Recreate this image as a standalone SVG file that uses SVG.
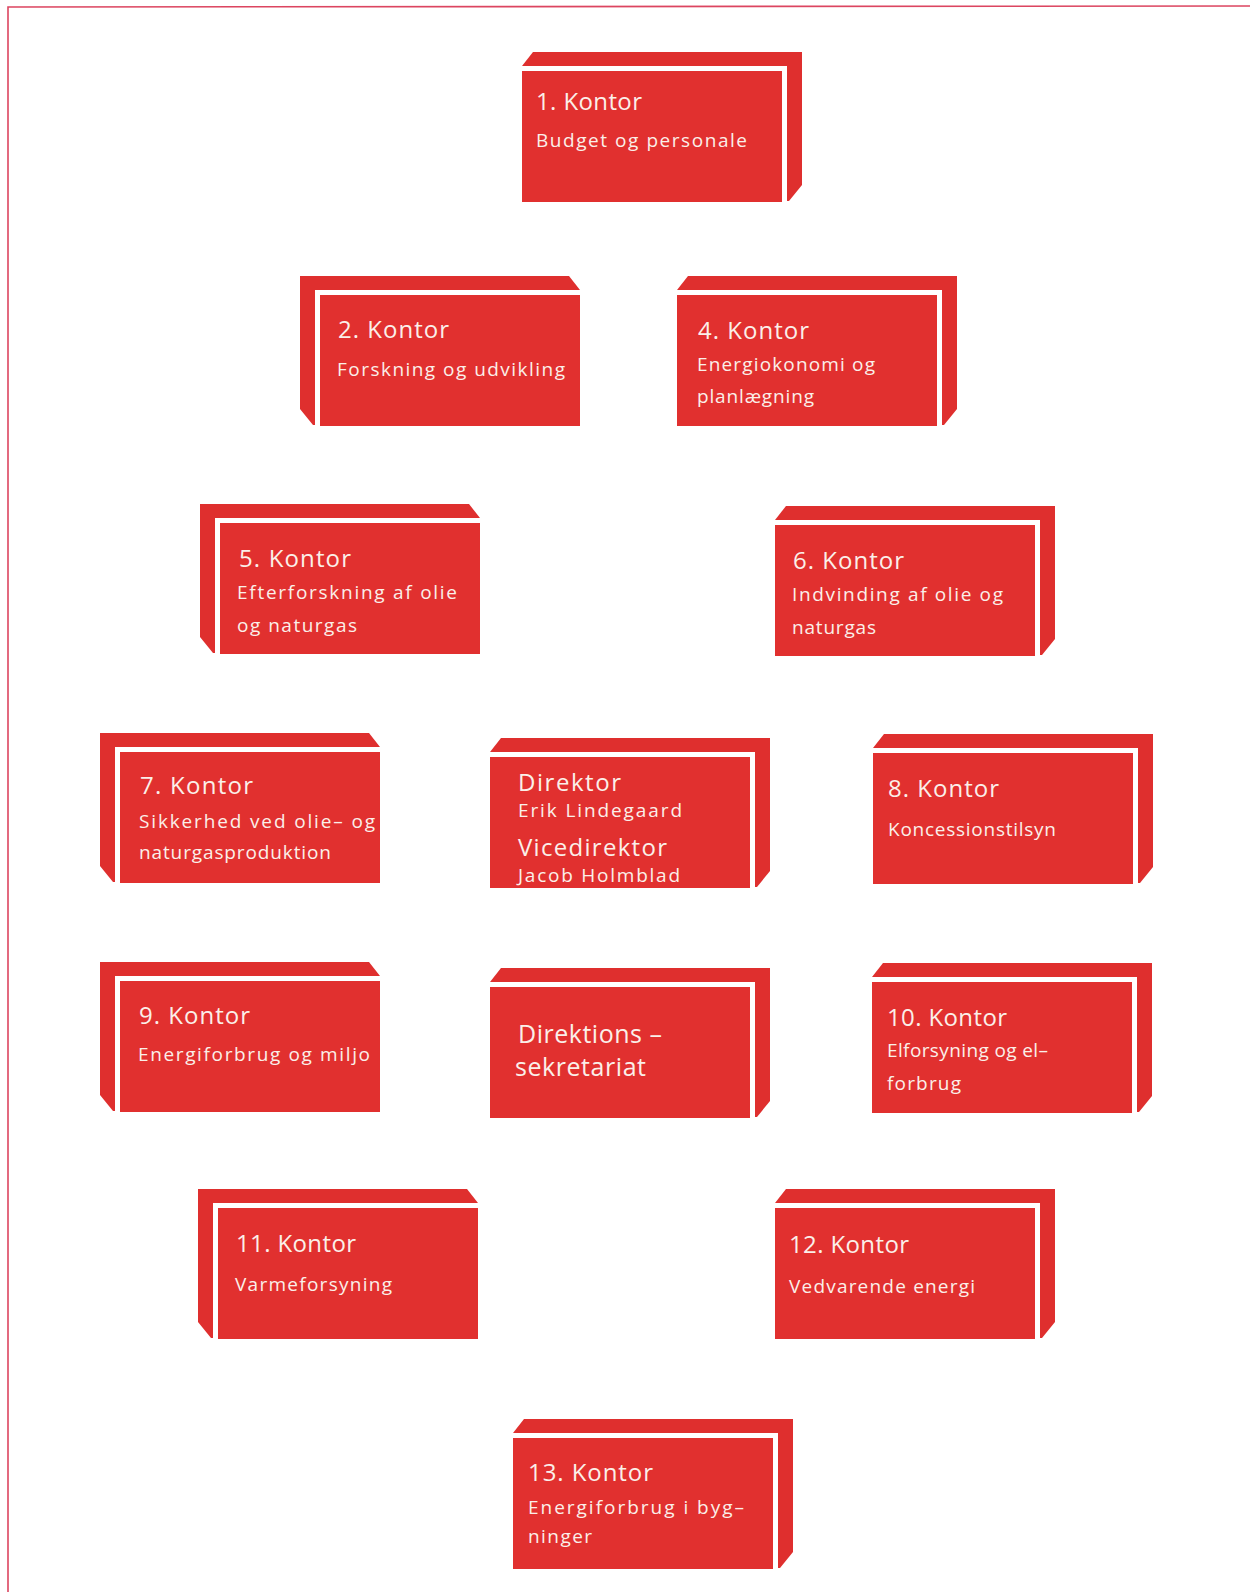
<svg xmlns="http://www.w3.org/2000/svg" xmlns:xlink="http://www.w3.org/1999/xlink" width="1250" height="1592" viewBox="0 0 1250 1592">
<style>
.back{fill:#df2f2e}
.gap{fill:#ffffff}
.face{fill:#e1302f}
text{font-family:"Open Sans","Noto Sans","Liberation Sans",sans-serif;fill:#fbefe9}
.t{font-size:24px}
.s{font-size:19px}
.d{font-size:25px}
.frame{fill:none;stroke:#dc4560;stroke-width:1.6}
</style>
<defs>
<g id="boxR">
<polygon class="back" points="0,-5 11,-19 280,-19 280,114 267,130 0,130"/>
<rect class="gap" x="0" y="-5" width="265" height="136"/>
<rect class="face" x="0" y="0" width="260" height="131"/>
</g>
<g id="boxL">
<polygon class="back" points="260,-5 249,-19 -20,-19 -20,114 -7,130 260,130"/>
<rect class="gap" x="-5" y="-5" width="265" height="136"/>
<rect class="face" x="0" y="0" width="260" height="131"/>
</g>
</defs>
<rect width="1250" height="1592" fill="#ffffff"/>
<polyline class="frame" points="8,1592 8,7 1250,6"/>
<g id="connectors"></g>

<g id="k1">
<use xlink:href="#boxR" x="522" y="71"/>
<text class="t" x="536" y="110" textLength="106" lengthAdjust="spacing">1. Kontor</text>
<text class="s" x="536" y="147" textLength="211" lengthAdjust="spacing">Budget og personale</text>
</g>

<g id="k2">
<use xlink:href="#boxL" x="320" y="295"/>
<text class="t" x="338" y="338" textLength="111" lengthAdjust="spacing">2. Kontor</text>
<text class="s" x="337" y="376" textLength="228" lengthAdjust="spacing">Forskning og udvikling</text>
</g>

<g id="k4">
<use xlink:href="#boxR" x="677" y="295"/>
<text class="t" x="698" y="339" textLength="111" lengthAdjust="spacing">4. Kontor</text>
<text class="s" x="697" y="371" textLength="178" lengthAdjust="spacing">Energiokonomi og</text>
<text class="s" x="697" y="403" textLength="117" lengthAdjust="spacing">planlægning</text>
</g>

<g id="k5">
<use xlink:href="#boxL" x="220" y="523"/>
<text class="t" x="239" y="567" textLength="112" lengthAdjust="spacing">5. Kontor</text>
<text class="s" x="237" y="599" textLength="220" lengthAdjust="spacing">Efterforskning af olie</text>
<text class="s" x="237" y="632" textLength="120" lengthAdjust="spacing">og naturgas</text>
</g>

<g id="k6">
<use xlink:href="#boxR" x="775" y="525"/>
<text class="t" x="793" y="569" textLength="111" lengthAdjust="spacing">6. Kontor</text>
<text class="s" x="792" y="601" textLength="211" lengthAdjust="spacing">Indvinding af olie og</text>
<text class="s" x="792" y="634" textLength="84" lengthAdjust="spacing">naturgas</text>
</g>

<g id="k7">
<use xlink:href="#boxL" x="120" y="752"/>
<text class="t" x="140" y="794" textLength="113" lengthAdjust="spacing">7. Kontor</text>
<text class="s" x="139" y="828" textLength="236" lengthAdjust="spacing">Sikkerhed ved olie– og</text>
<text class="s" x="139" y="859" textLength="192" lengthAdjust="spacing">naturgasproduktion</text>
</g>

<g id="direktor">
<use xlink:href="#boxR" x="490" y="757"/>
<text class="t" x="518" y="791" textLength="103" lengthAdjust="spacing">Direktor</text>
<text class="s" x="518" y="817" textLength="164" lengthAdjust="spacing">Erik  Lindegaard</text>
<text class="t" x="518" y="856" textLength="149" lengthAdjust="spacing">Vicedirektor</text>
<text class="s" x="518" y="882" textLength="162" lengthAdjust="spacing">Jacob  Holmblad</text>
</g>

<g id="k8">
<use xlink:href="#boxR" x="873" y="753"/>
<text class="t" x="888" y="797" textLength="111" lengthAdjust="spacing">8. Kontor</text>
<text class="s" x="888" y="836" textLength="168" lengthAdjust="spacing">Koncessionstilsyn</text>
</g>

<g id="k9">
<use xlink:href="#boxL" x="120" y="981"/>
<text class="t" x="139" y="1024" textLength="111" lengthAdjust="spacing">9. Kontor</text>
<text class="s" x="138" y="1061" textLength="232" lengthAdjust="spacing">Energiforbrug  og miljo</text>
</g>

<g id="direktionssekretariat">
<use xlink:href="#boxR" x="490" y="987"/>
<text class="d" x="518" y="1043" textLength="144" lengthAdjust="spacing">Direktions –</text>
<text class="d" x="515" y="1076" textLength="131" lengthAdjust="spacing">sekretariat</text>
</g>

<g id="k10">
<use xlink:href="#boxR" x="872" y="982"/>
<text class="t" x="887" y="1026" textLength="120" lengthAdjust="spacing">10. Kontor</text>
<text class="s" x="887" y="1057" textLength="161" lengthAdjust="spacing">Elforsyning  og  el–</text>
<text class="s" x="887" y="1090" textLength="74" lengthAdjust="spacing">forbrug</text>
</g>

<g id="k11">
<use xlink:href="#boxL" x="218" y="1208"/>
<text class="t" x="236" y="1252" textLength="120" lengthAdjust="spacing">11. Kontor</text>
<text class="s" x="235" y="1291" textLength="157" lengthAdjust="spacing">Varmeforsyning</text>
</g>

<g id="k12">
<use xlink:href="#boxR" x="775" y="1208"/>
<text class="t" x="789" y="1253" textLength="120" lengthAdjust="spacing">12. Kontor</text>
<text class="s" x="789" y="1293" textLength="186" lengthAdjust="spacing">Vedvarende  energi</text>
</g>

<g id="k13">
<use xlink:href="#boxR" x="513" y="1438"/>
<text class="t" x="528" y="1481" textLength="125" lengthAdjust="spacing">13. Kontor</text>
<text class="s" x="528" y="1514" textLength="216" lengthAdjust="spacing">Energiforbrug i  byg–</text>
<text class="s" x="528" y="1543" textLength="64" lengthAdjust="spacing">ninger</text>
</g>
</svg>
